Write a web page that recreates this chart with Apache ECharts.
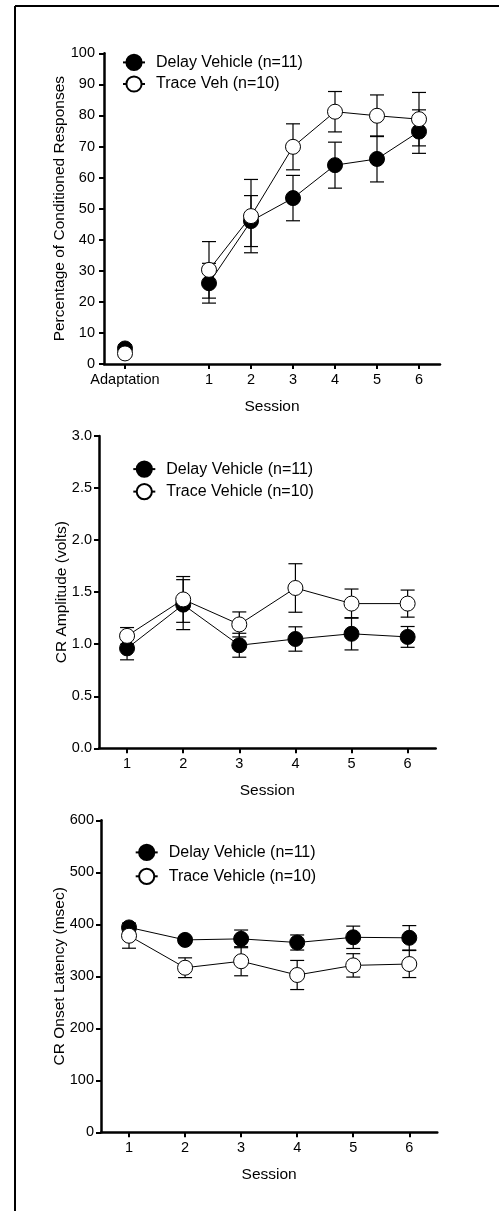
<!DOCTYPE html>
<html>
<head>
<meta charset="utf-8">
<script src="https://cdn.jsdelivr.net/npm/echarts@6/dist/echarts.min.js"></script>
<style>
html,body{margin:0;padding:0;background:#fff;}
#chart{width:499px;height:1211px;}
</style>
</head>
<body>
<div id="chart"></div>
<script>
// ---------- data ----------
var sessions = [1, 2, 3, 4, 5, 6];
var adaptationX = -1;            // position of the "Adaptation" tick on panel 1
var adaptationLabel = 'Adaptation';

// Panel 1: Percentage of Conditioned Responses
var crAdaptDelay = 5.0, crAdaptDelaySem = 1.2;
var crAdaptTrace = 3.4, crAdaptTraceSem = 1.0;
var crDelayMean = [26.0, 46.0, 53.4, 64.0, 66.0, 74.8];
var crDelaySem  = [6.4, 8.2, 7.3, 7.4, 7.4, 7.0];
var crTraceMean = [30.3, 47.6, 69.9, 81.2, 79.9, 78.8];
var crTraceSem  = [9.1, 11.8, 7.4, 6.5, 6.7, 8.6];

// Panel 2: CR Amplitude (volts)
var ampDelayMean = [0.96, 1.38, 0.99, 1.05, 1.10, 1.07];
var ampDelaySem  = [0.11, 0.24, 0.115, 0.117, 0.155, 0.10];
var ampTraceMean = [1.08, 1.43, 1.19, 1.54, 1.39, 1.39];
var ampTraceSem  = [0.08, 0.22, 0.12, 0.233, 0.14, 0.13];

// Panel 3: CR Onset Latency (msec)
var latDelayMean = [394, 370, 372, 365, 375, 374];
var latDelaySem  = [8, 6, 17, 14.5, 21.5, 23.5];
var latTraceMean = [378, 316.5, 329, 302.5, 321, 323.6];
var latTraceSem  = [24, 19, 28, 28, 22.5, 26];

var nameDelay = 'Delay Vehicle (n=11)';
var nameTraceVeh = 'Trace Veh (n=10)';
var nameTrace = 'Trace Vehicle (n=10)';

// ---------- helpers ----------
var FONT = '"Liberation Sans", Arial, Helvetica, sans-serif';
function pts(xs, ys) { return xs.map(function (x, i) { return [x, ys[i]]; }); }
function errs(xs, ys, se) { return xs.map(function (x, i) { return [x, ys[i] - se[i], ys[i] + se[i]]; }); }

function errRender(params, api) {
  var x = api.value(0), lo = api.value(1), hi = api.value(2);
  var a = api.coord([x, lo]), b = api.coord([x, hi]);
  var hw = 7;
  var st = { stroke: '#000', lineWidth: 1.2 };
  return { type: 'group', children: [
    { type: 'line', shape: { x1: a[0], y1: a[1], x2: b[0], y2: b[1] }, style: st },
    { type: 'line', shape: { x1: a[0] - hw, y1: a[1], x2: a[0] + hw, y2: a[1] }, style: st },
    { type: 'line', shape: { x1: b[0] - hw, y1: b[1], x2: b[0] + hw, y2: b[1] }, style: st }
  ]};
}
function errSeries(idx, data) {
  return { type: 'custom', xAxisIndex: idx, yAxisIndex: idx, renderItem: errRender,
           encode: { x: 0, y: [1, 2] }, data: data, z: 1, silent: true };
}
function lineSeries(idx, name, data, filled) {
  return { type: 'line', name: name, xAxisIndex: idx, yAxisIndex: idx, data: data,
           symbol: 'circle', symbolSize: 15, z: 3, silent: true,
           lineStyle: { color: '#000', width: 1 },
           itemStyle: { color: filled ? '#000' : '#fff', borderColor: '#000', borderWidth: 1, opacity: 1 },
           emphasis: { disabled: true } };
}
function scatterSeries(idx, name, data, filled) {
  return { type: 'scatter', name: name, xAxisIndex: idx, yAxisIndex: idx, data: data,
           symbol: 'circle', symbolSize: 15, z: 3, silent: true,
           itemStyle: { color: filled ? '#000' : '#fff', borderColor: '#000', borderWidth: 1, opacity: 1 } };
}
function xAxisDef(idx, min, max, ticks, fmt, gap) {
  return { type: 'value', gridIndex: idx, min: min, max: max,
           name: 'Session', nameLocation: 'middle', nameGap: gap, nameMoveOverlap: false,
           nameTextStyle: { fontFamily: FONT, fontSize: 15.5, color: '#000' },
           axisLine: { onZero: false, lineStyle: { color: '#000', width: 2.5 } },
           axisTick: { customValues: ticks, length: 5, lineStyle: { color: '#000', width: 2 } },
           axisLabel: { customValues: ticks, formatter: fmt, margin: 8,
                        fontFamily: FONT, fontSize: 14.5, color: '#000' },
           splitLine: { show: false } };
}
function yAxisDef(idx, max, interval, name, gap, margin, fmt) {
  return { type: 'value', gridIndex: idx, min: 0, max: max, interval: interval,
           name: name, nameLocation: 'middle', nameGap: gap, nameMoveOverlap: false,
           nameTextStyle: { fontFamily: FONT, fontSize: 15.5, color: '#000' },
           axisLine: { show: true, onZero: false, lineStyle: { color: '#000', width: 2.5 } },
           axisTick: { show: true, length: 5, lineStyle: { color: '#000', width: 2 } },
           axisLabel: { margin: margin, formatter: fmt, fontFamily: FONT, fontSize: 14.5, color: '#000' },
           splitLine: { show: false } };
}
function legendDef(left, top, gap, names) {
  return { orient: 'vertical', left: left, top: top, padding: 0, itemGap: gap,
           itemWidth: 22, itemHeight: 19, selectedMode: false, data: names,
           textStyle: { fontFamily: FONT, fontSize: 16, color: '#000', padding: [0, 0, 0, 6] } };
}

var adaptTicks = [adaptationX].concat(sessions);

var option = {
  animation: false,
  backgroundColor: '#fff',
  graphic: [
    { type: 'line', shape: { x1: 15, y1: 6, x2: 499, y2: 6 }, style: { stroke: '#000', lineWidth: 2 } },
    { type: 'line', shape: { x1: 15, y1: 6, x2: 15, y2: 1211 }, style: { stroke: '#000', lineWidth: 2 } }
  ],
  grid: [
    { left: 104, top: 53.3, width: 336, height: 310.7 },
    { left: 99, top: 436, width: 336.7, height: 312.3 },
    { left: 101, top: 820.3, width: 336.3, height: 312 }
  ],
  xAxis: [
    xAxisDef(0, -1.5, 6.5, adaptTicks, function (v) { return v === adaptationX ? adaptationLabel : String(v); }, 35),
    xAxisDef(1, 0.5, 6.5, sessions, function (v) { return String(v); }, 34),
    xAxisDef(2, 0.5, 6.5, sessions, function (v) { return String(v); }, 34)
  ],
  yAxis: [
    yAxisDef(0, 100, 10, 'Percentage of Conditioned Responses', 36, 9, function (v) { return String(v); }),
    yAxisDef(1, 3, 0.5, 'CR Amplitude (volts)', 29.5, 7, function (v) { return v.toFixed(1); }),
    yAxisDef(2, 600, 100, 'CR Onset Latency (msec)', 33, 7, function (v) { return String(v); })
  ],
  legend: [
    legendDef(122, 53.8, 4.4, [nameDelay, nameTraceVeh]),
    legendDef(132.3, 460.5, 5.3, [nameDelay, nameTrace]),
    legendDef(134.7, 843.8, 6.7, [nameDelay, nameTrace])
  ],
  series: [
    // panel 1
    errSeries(0, errs([adaptationX], [crAdaptDelay], [crAdaptDelaySem]).concat(errs(sessions, crDelayMean, crDelaySem))),
    errSeries(0, errs([adaptationX], [crAdaptTrace], [crAdaptTraceSem]).concat(errs(sessions, crTraceMean, crTraceSem))),
    lineSeries(0, nameDelay, pts(sessions, crDelayMean), true),
    scatterSeries(0, 'Delay Vehicle adaptation', [[adaptationX, crAdaptDelay]], true),
    lineSeries(0, nameTraceVeh, pts(sessions, crTraceMean), false),
    scatterSeries(0, 'Trace Veh adaptation', [[adaptationX, crAdaptTrace]], false),
    // panel 2
    errSeries(1, errs(sessions, ampDelayMean, ampDelaySem)),
    errSeries(1, errs(sessions, ampTraceMean, ampTraceSem)),
    lineSeries(1, nameDelay, pts(sessions, ampDelayMean), true),
    lineSeries(1, nameTrace, pts(sessions, ampTraceMean), false),
    // panel 3
    errSeries(2, errs(sessions, latDelayMean, latDelaySem)),
    errSeries(2, errs(sessions, latTraceMean, latTraceSem)),
    lineSeries(2, nameDelay, pts(sessions, latDelayMean), true),
    lineSeries(2, nameTrace, pts(sessions, latTraceMean), false)
  ]
};

var chart = echarts.init(document.getElementById('chart'), null, { renderer: 'canvas' });
chart.setOption(option);
</script>
</body>
</html>
